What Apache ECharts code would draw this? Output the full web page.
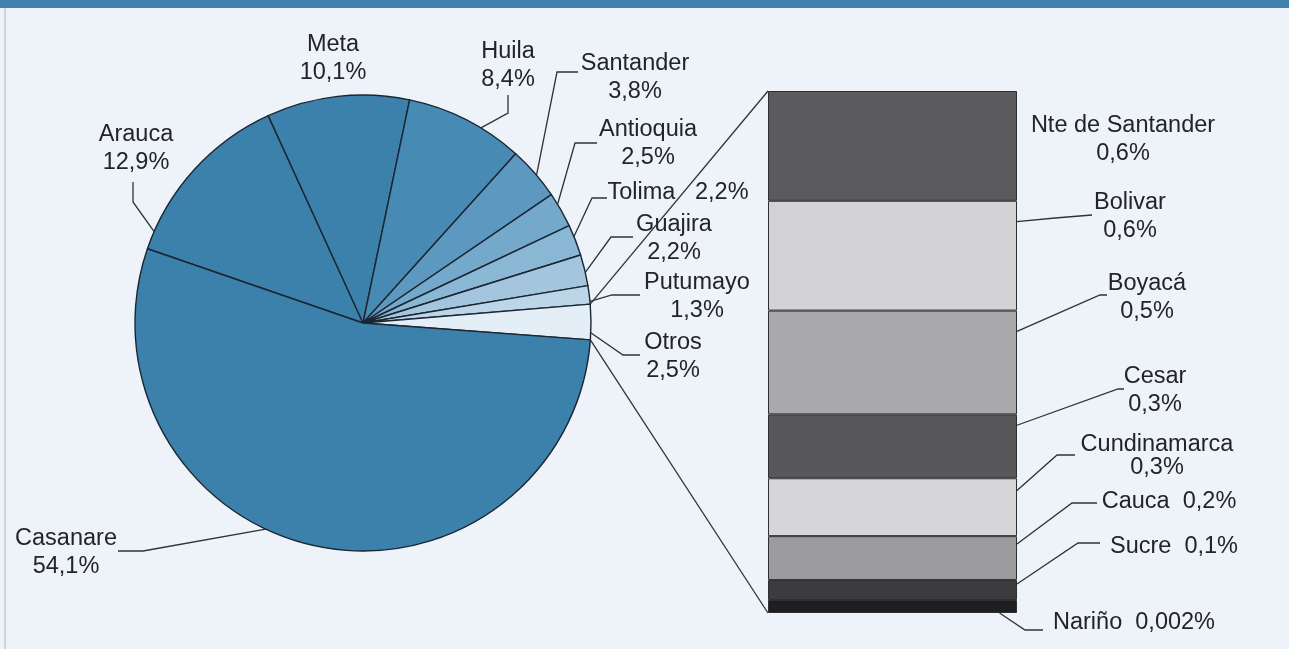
<!DOCTYPE html>
<html><head><meta charset="utf-8">
<script src="https://cdn.jsdelivr.net/npm/echarts@6/dist/echarts.min.js"></script>
<style>html,body{margin:0;padding:0;background:#edf3f9;}#c{width:1289px;height:649px;}</style>
</head><body><div id="c"></div>
<script>
// ---- data ----
const pieNames  = ['Arauca','Meta','Huila','Santander','Antioquia','Tolima','Guajira','Putumayo','Otros','Casanare'];
const pieValues = [12.9, 10.1, 8.4, 3.8, 2.5, 2.2, 2.2, 1.3, 2.5, 54.1];
const barNames  = ['Nte de Santander','Bolivar','Boyacá','Cesar','Cundinamarca','Cauca','Sucre','Nariño'];
const barPct    = [0.6, 0.6, 0.5, 0.3, 0.3, 0.2, 0.1, 0.002];
// segment sizes as drawn in the picture (in the same % units)
const barDrawn  = [0.55, 0.55, 0.52, 0.32, 0.29, 0.22, 0.10, 0.065];

// ---- styles / layout ----
const pieColors = ['#3c81ab','#3c81ab','#478ab4','#5d98c0','#74a9cb','#8ab7d4','#a3c6de','#bcd6e8','#e4eef6','#3c81ab'];
const barColors = ['#5b5b5d','#d3d3d5','#a9a9ab','#58585a','#d6d6d8','#9c9c9e','#3c3c3e','#1e1f20'];
const TXT = '#232425', LINE = '#2f3338';
const fmt = v => String(v).replace('.', ',') + '%';

const pieLab = {
  Arauca:    {x:136, y:149, t:0.10, b:[[133,202],[133,182]]},
  Meta:      {x:333, y:59},
  Huila:     {x:508, y:66,  t:0.64, b:[[508,113],[508,95]]},
  Santander: {x:635, y:78,  t:0.55, b:[[557,72],[578,72]]},
  Antioquia: {x:648, y:144, t:0.32, b:[[575,143],[597,143]]},
  Tolima:    {x:678, y:193, t:0.38, one:'   ', b:[[592,198],[607,198]]},
  Guajira:   {x:674, y:239, t:0.57, b:[[611,237],[633,237]]},
  Putumayo:  {x:697, y:297, t:0.85, b:[[612,295],[640,295]]},
  Otros:     {x:673, y:357, t:0.80, b:[[623,355],[640,355]]},
  Casanare:  {x:66,  y:553, t:0.57, b:[[143,551],[118,551]]}
};
const barLab = {
  'Nte de Santander': {x:1123, y:140},
  'Bolivar':      {x:1130, y:217, ax:1, ay:0.19, b:[[1055,218],[1092,215]]},
  'Boyacá':       {x:1147, y:298, ax:1, ay:0.20, b:[[1100,295],[1107,295]]},
  'Cesar':        {x:1155, y:391, ax:1, ay:0.17, b:[[1118,389],[1124,389]]},
  'Cundinamarca': {x:1157, y:456, lh:23, ax:1, ay:0.21, b:[[1057,455],[1075,455]]},
  'Cauca':        {x:1169, y:502, one:'  ', ax:1, ay:0.18, b:[[1072,503],[1097,503]]},
  'Sucre':        {x:1174, y:547, one:'  ', ax:1, ay:0.20, b:[[1078,543],[1100,543]]},
  'Nariño':       {x:1134, y:623, one:'  ', ax:0.93, ay:1, b:[[1025,630],[1043,630]]}
};
const labelText = (name, v, L) => L.one ? name + L.one + fmt(v) : name + '\n' + fmt(v);
const font = {color:TXT, fontSize:23.5, fontFamily:'"Liberation Sans", Arial, sans-serif', lineHeight:28};

const chart = echarts.init(document.getElementById('c'), null, {renderer:'canvas'});
const barTotal = barDrawn.reduce((a,b)=>a+b,0);

const series = [{
  type:'pie', center:[363,323], radius:228, startAngle:161, clockwise:true,
  avoidLabelOverlap:false, silent:true,
  data: pieNames.map((n,i)=>({name:n, value:pieValues[i], itemStyle:{color:pieColors[i]}})),
  itemStyle:{borderColor:'#1b2633', borderWidth:1.4},
  label:Object.assign({show:true, position:'outside',
    formatter:p=>labelText(p.name, pieValues[p.dataIndex], pieLab[p.name])}, font),
  labelLine:{show:false},
  labelLayout:p=>{const L=pieLab[pieNames[p.dataIndex]]; return {x:L.x, y:L.y, align:'center', verticalAlign:'middle'};}
}];
barNames.forEach((n,i)=>{
  const L = barLab[n];
  series.push({
    type:'bar', name:n, stack:'otros', data:[barDrawn[i]], barWidth:'100%', silent:true,
    itemStyle:{color:barColors[i], borderColor:'#2e2e30', borderWidth:1},
    label:Object.assign({show:true, position:'right',
      formatter:()=>labelText(n, barPct[i], L)}, font, L.lh?{lineHeight:L.lh}:{}),
    labelLayout:()=>({x:L.x, y:L.y, align:'center', verticalAlign:'middle'})
  });
});

const option = {
  animation:false,
  backgroundColor:'#edf3f9',
  grid:{left:768, top:91, width:249, height:522},
  xAxis:{type:'category', data:['Otros'], show:false},
  yAxis:{type:'value', inverse:true, min:0, max:barTotal, show:false},
  series
};
chart.setOption(option);

// ---- guide lines computed from the rendered layout ----
const model = chart.getModel();
const pieData = model.getSeriesByIndex(0).getData();
function pieAnchor(i, t){
  const l = pieData.getItemLayout(i);
  const a = l.startAngle + t*(l.endAngle - l.startAngle);
  return [l.cx + l.r*Math.cos(a), l.cy + l.r*Math.sin(a)];
}
function barRect(i){
  const l = model.getSeriesByIndex(1+i).getData().getItemLayout(0);
  let x=l.x, y=l.y, w=l.width, h=l.height;
  if (w<0){x+=w; w=-w;} if (h<0){y+=h; h=-h;}
  return {x,y,w,h};
}
const graphics = [
  {type:'rect', shape:{x:0,y:0,width:1289,height:8}, style:{fill:'#4280ae'}, silent:true},
  {type:'line', shape:{x1:5,y1:8,x2:5,y2:649}, style:{stroke:'#c3c8cd', lineWidth:1.5}, silent:true}
];
const poly = pts => ({type:'polyline', shape:{points:pts}, style:{stroke:LINE, lineWidth:1.3, fill:null}, silent:true, z:10});
pieNames.forEach((n,i)=>{
  const L = pieLab[n];
  if (L.b) graphics.push(poly([pieAnchor(i, L.t)].concat(L.b)));
});
barNames.forEach((n,i)=>{
  const L = barLab[n];
  if (L.b){ const r = barRect(i); graphics.push(poly([[r.x + r.w*L.ax, r.y + r.h*L.ay]].concat(L.b))); }
});
// connectors from the "Otros" slice to the breakdown column
const oi = pieNames.indexOf('Otros');
const colTop = barRect(0), colBot = barRect(barNames.length-1);
graphics.push(poly([pieAnchor(oi,0), [colTop.x, colTop.y]]));
graphics.push(poly([pieAnchor(oi,1), [colBot.x, colBot.y + colBot.h]]));
chart.setOption({graphic: graphics});
</script>
</body></html>
